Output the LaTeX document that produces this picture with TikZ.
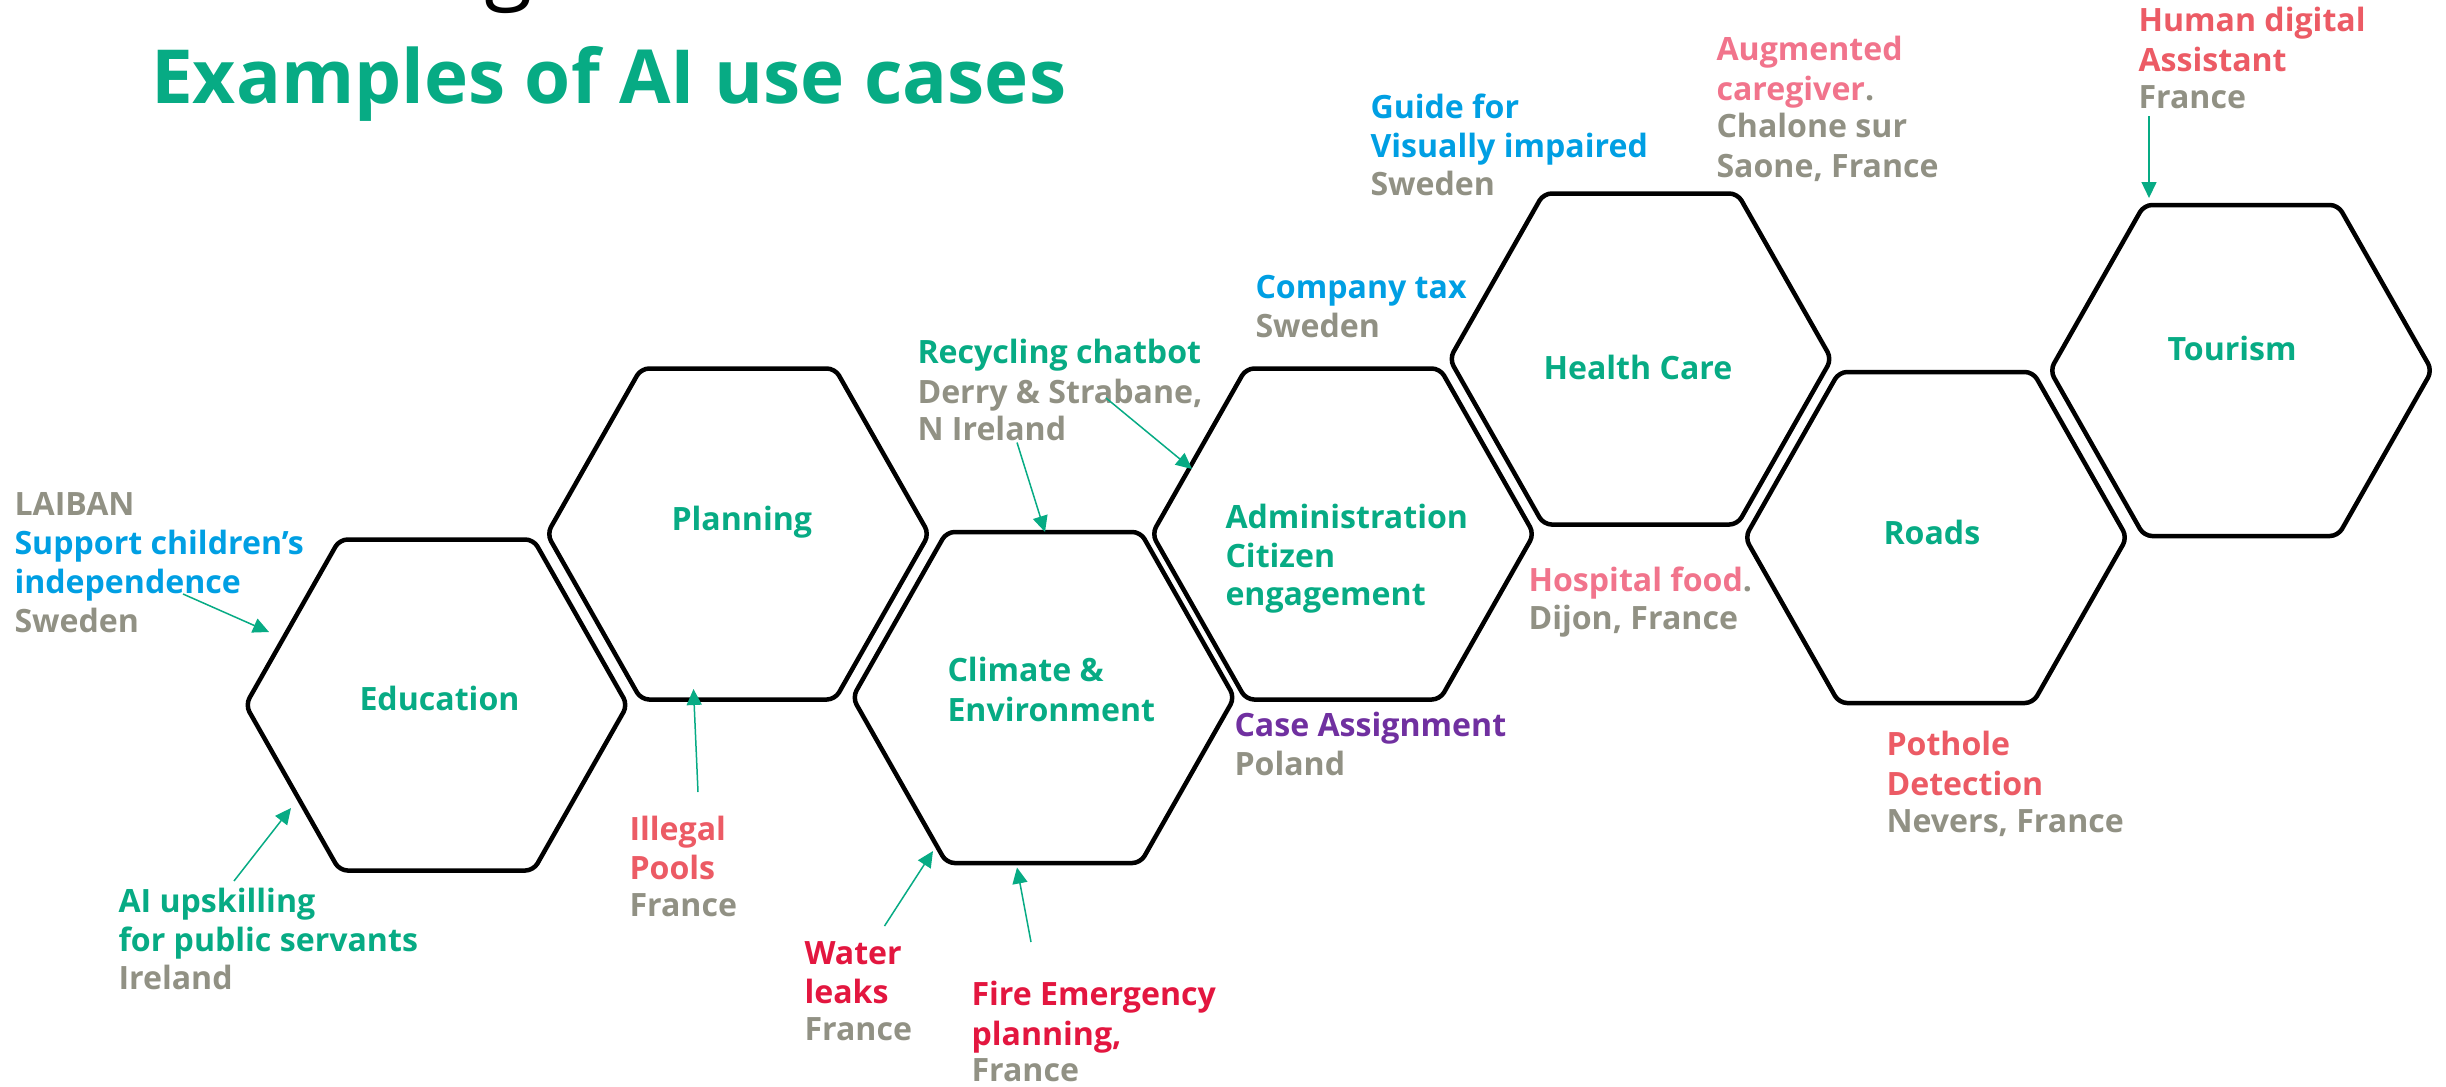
\documentclass[tikz,border=0pt]{standalone}
\usepackage{fontspec}
\setmainfont{Open Sans}
\usetikzlibrary{arrows.meta}
\definecolor{cgreen}{HTML}{07AB84}
\definecolor{cblue}{HTML}{009FE3}
\definecolor{cgray}{HTML}{919184}
\definecolor{cpink}{HTML}{F1748C}
\definecolor{ccoral}{HTML}{EC5B65}
\definecolor{cred}{HTML}{E3163F}
\definecolor{cpurple}{HTML}{7030A0}
\tikzset{
  hexline/.style={draw=black,line width=4.5bp,rounded corners=8bp,line join=round},
  lab/.style={anchor=north west,inner sep=0pt,outer sep=0pt,align=left,font=\bfseries\fontsize{32.1bp}{39.6bp}\selectfont},
  ptr/.style={draw=cgreen,line width=1.5bp,-{Triangle[length=16bp,width=15bp]}}
}
\newcommand{\hexa}[2]{\draw[hexline,shift={(#1,#2)}] (-191,0)--(-97,-165.5)--(97,-165.5)--(191,0)--(97,165.5)--(-97,165.5)--cycle;}
\newcommand{\lb}[4]{\node[lab] (#1) at (#2-0.5,#3-30) {\rule{0pt}{30bp}#4};}
\newcommand{\G}[1]{\textcolor{cgreen}{#1}}
\newcommand{\B}[1]{\textcolor{cblue}{#1}}
\newcommand{\Y}[1]{\textcolor{cgray}{#1}}
\newcommand{\K}[1]{\textcolor{cpink}{#1}}
\newcommand{\C}[1]{\textcolor{ccoral}{#1}}
\newcommand{\R}[1]{\textcolor{cred}{#1}}
\newcommand{\Pp}[1]{\textcolor{cpurple}{#1}}
\begin{document}
\begin{tikzpicture}[x=1bp,y=-1bp]
\useasboundingbox (0,0) rectangle (2446,1086);
\node[anchor=base west,inner sep=0pt,font=\fontsize{88bp}{88bp}\selectfont] (cutg) at (484,-8) {g};
\node[anchor=base west,inner sep=0pt,text=cgreen,font=\bfseries\fontsize{74.6bp}{76bp}\selectfont] (title) at (151,103) {Examples of AI use cases};
\hexa{436.5}{705}
\hexa{738}{534}
\hexa{1043.5}{697.5}
\hexa{1343}{534}
\hexa{1640.5}{359}
\hexa{1936}{537.5}
\hexa{2241}{370.5}
\lb{edu}{360}{710}{\G{Education}}
\lb{pla}{672}{530}{\G{Planning}}
\lb{cli}{948}{681.5}{\G{Climate \&}\\\G{Environment}}
\lb{adm}{1226}{528}{\G{Administration}\\\G{Citizen}\\[-2bp]\G{engagement}}
\lb{hea}{1544}{379}{\G{Health Care}}
\lb{roa}{1884}{544}{\G{Roads}}
\lb{tou}{2168}{360}{\G{Tourism}}
\lb{laiban}{15}{515}{\Y{LAIBAN}\\\B{Support children’s}\\[-1bp]\B{independence}\\\Y{Sweden}}
\lb{aiup}{119}{912}{\G{AI upskilling}\\\G{for public servants}\\[-2bp]\Y{Ireland}}
\lb{pools}{630}{840}{\C{Illegal}\\\C{Pools}\\[-3bp]\Y{France}}
\lb{water}{805}{964}{\R{Water}\\\R{leaks}\\[-3bp]\Y{France}}
\lb{fire}{972}{1005.5}{\R{Fire Emergency}\\\R{planning,}\\[-3bp]\Y{France}}
\lb{recy}{918}{363}{\G{Recycling chatbot}\\[1bp]\Y{Derry \& Strabane,}\\[-3bp]\Y{N Ireland}}
\lb{ctax}{1256}{298}{\B{Company tax}\\\Y{Sweden}}
\lb{guide}{1371}{118}{\B{Guide for}\\\B{Visually impaired}\\[-2bp]\Y{Sweden}}
\lb{aug}{1717}{60.5}{\K{Augmented}\\\K{caregiver}\textcolor{cgray}{.}\\[-2bp]\Y{Chalone sur}\\\Y{Saone, France}}
\lb{human}{2139}{31}{\C{Human digital}\\[1bp]\C{Assistant}\\[-3bp]\Y{France}}
\lb{hosp}{1529}{591}{\K{Hospital food}\textcolor{cgray}{.}\\[-1bp]\Y{Dijon, France}}
\lb{case}{1235}{736}{\Pp{Case Assignment}\\\Y{Poland}}
\lb{poth}{1887}{755}{\C{Pothole}\\[1bp]\C{Detection}\\[-3bp]\Y{Nevers, France}}
\coordinate (a1s) at (183,594); \coordinate (a1e) at (269,632);
\coordinate (a2s) at (234,881); \coordinate (a2e) at (291,808);
\coordinate (a3s) at (698,792); \coordinate (a3e) at (693.5,689);
\coordinate (a4s) at (884.5,926); \coordinate (a4e) at (933,851);
\coordinate (a5s) at (1031,942); \coordinate (a5e) at (1017,867.5);
\coordinate (a6s) at (1017,442.5); \coordinate (a6e) at (1045,532);
\coordinate (a7s) at (1106,398); \coordinate (a7e) at (1192,469);
\coordinate (a8s) at (2149,116); \coordinate (a8e) at (2149,198);
\foreach \i in {1,...,8}{\draw[ptr] (a\i s) -- (a\i e);}
\end{tikzpicture}
\end{document}
